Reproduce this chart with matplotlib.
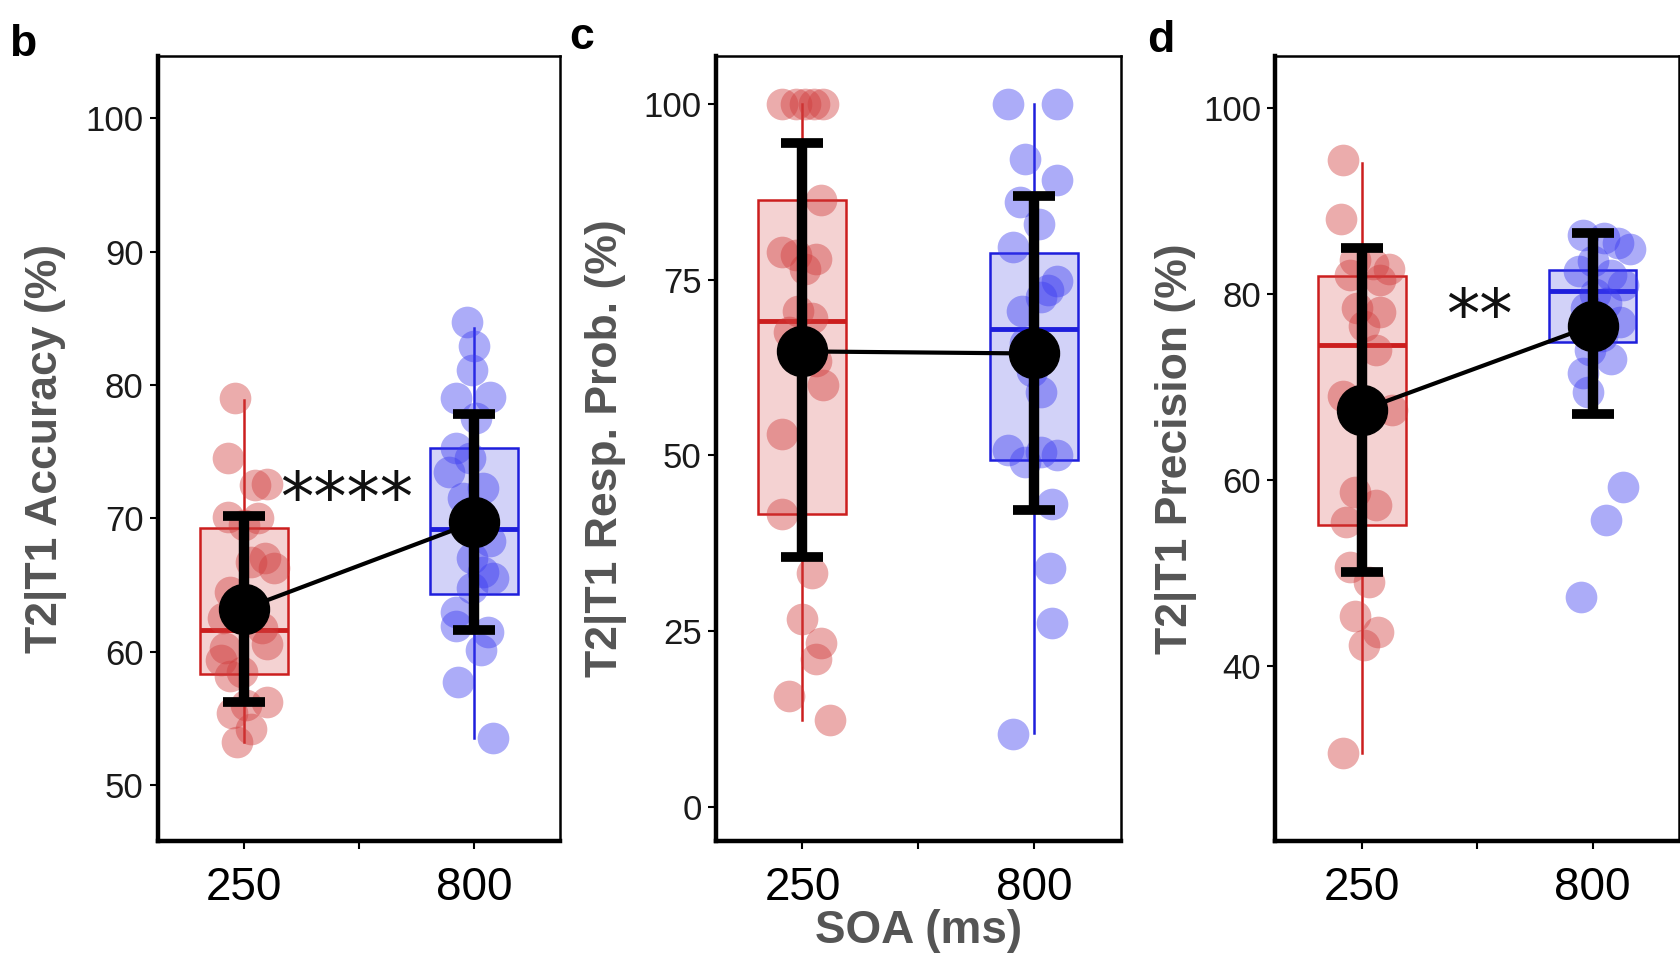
import matplotlib
matplotlib.use("Agg")
import matplotlib.pyplot as plt

plt.rcParams['font.family'] = ['Liberation Sans', 'DejaVu Sans']

# ---------------- data ----------------
soa_labels = ["250", "800"]
ylabels = ["T2|T1 Accuracy (%)", "T2|T1 Resp. Prob. (%)", "T2|T1 Precision (%)"]
panel_letters = ["b", "c", "d"]
yticks_b = [50, 60, 70, 80, 90, 100]
yticks_c = [0, 25, 50, 75, 100]
yticks_d = [40, 60, 80, 100]
ylim_b = (45.8, 104.7)
ylim_c = (-4.9, 106.9)
ylim_d = (21.2, 105.6)
sig_b = "****"
sig_d = "**"

# individual participants (value, jitter)
b_250 = [79.0, 74.5, 72.6, 72.5, 70.1, 70.0, 69.5, 67.0, 66.7, 66.3, 64.5, 63.0,
         62.5, 61.8, 60.6, 60.3, 59.4, 58.5, 58.2, 56.2, 56.0, 55.4, 54.2, 53.2]
b_250_jit = [-0.04, -0.07, 0.10, 0.05, -0.07, 0.06, 0.0, 0.09, 0.03, 0.13, -0.06, 0.03,
             -0.09, 0.08, 0.10, -0.08, -0.10, -0.01, -0.06, 0.10, 0.01, -0.05, 0.03, -0.03]
b_800 = [84.7, 82.9, 81.1, 79.1, 79.0, 77.5, 75.3, 74.5, 73.5, 72.3, 71.5, 70.0,
         68.3, 67.0, 66.0, 65.5, 64.8, 63.0, 61.9, 61.5, 60.1, 57.7, 53.5]
b_800_jit = [-0.03, 0.0, -0.01, 0.07, -0.08, 0.01, -0.08, -0.02, -0.11, 0.04, -0.05, 0.01,
             0.07, -0.01, 0.04, 0.08, -0.01, -0.08, -0.08, 0.06, 0.03, -0.07, 0.08]

c_250 = [100, 100, 100, 100, 100, 86.4, 79.0, 78.5, 78.0, 76.5, 70.6, 69.5, 67.5,
         63.5, 60.0, 53.0, 41.6, 33.2, 26.7, 23.3, 21.0, 15.7, 12.3]
c_250_jit = [-0.09, -0.03, 0.01, 0.05, 0.09, 0.08, -0.09, -0.03, 0.06, 0.01, -0.02, 0.04, -0.06,
             0.06, 0.09, -0.09, -0.09, 0.04, 0.0, 0.08, 0.06, -0.06, 0.12]
c_800 = [100, 100, 92.2, 89.2, 86.0, 83.0, 79.7, 74.8, 73.5, 72.5, 70.5, 66.0, 62.0,
         59.0, 50.8, 50.5, 50.0, 49.0, 43.1, 34.0, 26.1, 10.4]
c_800_jit = [-0.11, 0.10, -0.04, 0.10, -0.06, 0.02, -0.09, 0.10, 0.06, 0.03, -0.05, -0.04, -0.01,
             0.03, -0.11, 0.03, 0.10, -0.04, 0.08, 0.07, 0.08, -0.09]

d_250 = [94.4, 88.0, 83.6, 83.2, 82.7, 82.0, 81.5, 78.5, 78.0, 76.5, 74.0, 69.0, 67.5,
         58.7, 57.3, 55.5, 50.6, 49.0, 45.4, 43.7, 42.3, 30.7]
d_250_jit = [-0.08, -0.09, -0.03, 0.05, 0.12, -0.05, 0.08, -0.02, 0.08, 0.01, 0.06, -0.08, 0.13,
             -0.03, 0.06, -0.07, -0.05, 0.03, -0.03, 0.07, 0.01, -0.08]
d_800 = [86.3, 86.0, 85.5, 84.8, 83.5, 82.5, 82.0, 81.0, 80.0, 79.0, 78.5, 77.0, 75.5,
         74.0, 73.0, 71.5, 69.5, 59.2, 55.7, 47.4]
d_800_jit = [-0.04, 0.05, 0.11, 0.16, 0.0, -0.06, 0.08, 0.13, 0.01, 0.06, -0.03, 0.12, 0.04,
             -0.01, 0.08, -0.04, -0.02, 0.13, 0.06, -0.05]

# box statistics: (whisker low, q1, median, q3, whisker high)
box_b = [(53.2, 58.3, 61.6, 69.3, 78.9), (53.5, 64.3, 69.2, 75.3, 84.3)]
box_c = [(12.3, 41.6, 69.1, 86.3, 100.0), (10.5, 49.4, 68.0, 78.8, 100.0)]
box_d = [(30.7, 55.2, 74.5, 81.9, 94.1), (69.5, 74.8, 80.3, 82.6, 86.3)]

# mean and error bar limits
mean_b = [63.2, 69.7]; lo_b = [56.2, 61.6]; hi_b = [70.2, 77.8]
mean_c = [64.8, 64.5]; lo_c = [35.5, 42.2]; hi_c = [94.5, 86.9]
mean_d = [67.5, 76.6]; lo_d = [50.1, 67.1]; hi_d = [84.9, 86.5]

# ---------------- style ----------------
edge_cols = ["#CC1E1E", "#1E1EDC"]
pt_cols = ["#D03A3A", "#3A3AF0"]
fill_cols = ["#CC1E1E", "#1E1EDC"]
label_grey = "#555555"

fig = plt.figure(figsize=(16.8, 9.55), dpi=100)
axes_rects = [(0.0938, 0.1194, 0.2398, 0.8223),
              (0.4260, 0.1194, 0.2411, 0.8223),
              (0.7590, 0.1194, 0.2405, 0.8223)]

panels = [
    dict(pts=[(b_250, b_250_jit), (b_800, b_800_jit)], box=box_b, mean=mean_b, lo=lo_b, hi=hi_b,
         ylim=ylim_b, yticks=yticks_b, sig=sig_b, sig_pos=(1.446, 71.3), lab_x=-0.226),
    dict(pts=[(c_250, c_250_jit), (c_800, c_800_jit)], box=box_c, mean=mean_c, lo=lo_c, hi=hi_c,
         ylim=ylim_c, yticks=yticks_c, sig=None, sig_pos=None, lab_x=-0.219),
    dict(pts=[(d_250, d_250_jit), (d_800, d_800_jit)], box=box_d, mean=mean_d, lo=lo_d, hi=hi_d,
         ylim=ylim_d, yticks=yticks_d, sig=sig_d, sig_pos=(1.508, 77.4), lab_x=-0.194),
]
letter_pos = [(0.0134, 0.9414), (0.3464, 0.949), (0.6911, 0.9458)]

for i, p in enumerate(panels):
    ax = fig.add_axes(axes_rects[i])
    xs = [1, 2]
    # boxes
    for g in range(2):
        wl, q1, med, q3, wh = p["box"][g]
        stats = [dict(whislo=wl, q1=q1, med=med, q3=q3, whishi=wh, fliers=[])]
        bp = ax.bxp(stats, positions=[xs[g]], widths=0.38, patch_artist=True,
                    showfliers=False, capwidths=[0.0], manage_ticks=False,
                    boxprops=dict(facecolor=fill_cols[g] + "33", edgecolor=edge_cols[g], linewidth=1.8),
                    medianprops=dict(color=edge_cols[g], linewidth=3.5),
                    whiskerprops=dict(color=edge_cols[g], linewidth=1.8),
                    capprops=dict(linewidth=0))
        for art in bp["boxes"] + bp["medians"] + bp["whiskers"]:
            art.set_zorder(2)
    # points
    for g in range(2):
        vals, jit = p["pts"][g]
        ax.scatter([xs[g] + j for j in jit], vals, s=520, color=pt_cols[g], alpha=0.42,
                   linewidths=0, zorder=3)
    # mean line + error bars
    ax.plot(xs, p["mean"], color="black", linewidth=3, zorder=4)
    yerr = [[m - l for m, l in zip(p["mean"], p["lo"])], [h - m for m, h in zip(p["mean"], p["hi"])]]
    ax.errorbar(xs, p["mean"], yerr=yerr, fmt="o", color="black", markersize=36,
                elinewidth=7.5, capsize=15, capthick=7, zorder=5)
    if p["sig"]:
        ax.text(p["sig_pos"][0], p["sig_pos"][1], p["sig"], ha="center", va="center",
                fontsize=48, color="#111111", family="DejaVu Sans", zorder=6)
    ax.set_xlim(0.625, 2.375)
    ax.set_ylim(*p["ylim"])
    ax.set_xticks([1, 1.5, 2])
    ax.set_xticklabels([soa_labels[0], "", soa_labels[1]])
    ax.set_yticks(p["yticks"])
    ax.tick_params(axis="x", labelsize=33, length=6, width=1.5, pad=12, colors="black")
    ax.tick_params(axis="y", labelsize=25, length=6, width=1.5, pad=4, labelcolor="#1a1a1a")
    for side in ["left", "bottom"]:
        ax.spines[side].set_linewidth(3.2)
    for side in ["top", "right"]:
        ax.spines[side].set_linewidth(1.8)
    ax.set_ylabel(ylabels[i], fontsize=32, fontweight="bold", color=label_grey)
    ax.yaxis.set_label_coords(p["lab_x"], 0.5)
    if i == 1:
        ax.set_xlabel("SOA (ms)", fontsize=33, fontweight="bold", color=label_grey, labelpad=-1)
    fig.text(letter_pos[i][0], letter_pos[i][1], panel_letters[i], fontsize=32,
             fontweight="bold", ha="center", va="baseline")

fig.savefig("out.png", dpi=100)
